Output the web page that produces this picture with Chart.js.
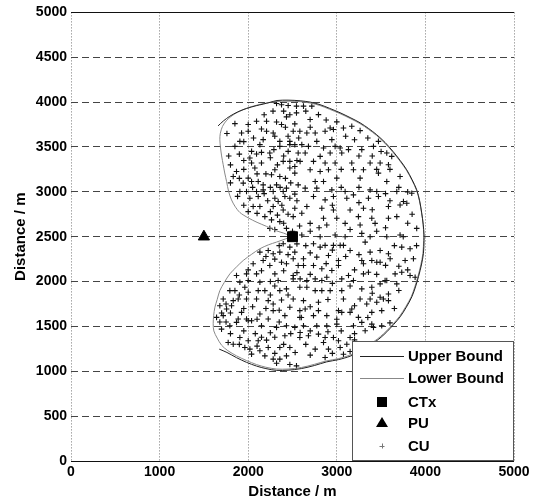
<!DOCTYPE html>
<html>
<head>
<meta charset="utf-8">
<script src="https://cdn.jsdelivr.net/npm/chart.js@4.4.1/dist/chart.umd.min.js"></script>
<style>
body { margin: 0; background: #fff; }
</style>
</head>
<body>
<canvas id="chart" width="537" height="503"></canvas>
<script>
// axis ticks
var xTicks = [0, 1000, 2000, 3000, 4000, 5000];
var yTicks = [0, 500, 1000, 1500, 2000, 2500, 3000, 3500, 4000, 4500, 5000];

// transmitter positions
var ctxPos = [[2500, 2500]];
var puPos = [[1500, 2500]];

// outer boundary (open at the left side)
var upperBound = [
  [1660,3735],[1720,3790],[1793,3843],[1880,3890],[1981,3929],[2090,3960],[2169,3978],[2250,3998],
  [2325,4018],[2450,4022],[2586,4015],[2700,4000],[2810,3972],[2920,3930],[3036,3882],[3150,3828],
  [3262,3770],[3360,3705],[3450,3637],[3545,3550],[3634,3451],[3715,3350],[3789,3246],[3850,3135],
  [3902,3023],[3935,2900],[3958,2766],[3975,2640],[3985,2520],[3985,2460],[3978,2315],[3955,2185],
  [3922,2054],[3888,1940],[3847,1830],[3785,1715],[3715,1607],[3640,1520],[3565,1440],[3500,1380],
  [3432,1328],[3300,1240],[3150,1168],[3020,1130],[2886,1105],[2750,1065],[2600,1030],[2450,1012],
  [2320,1010],[2200,1030],[2094,1058],[1980,1100],[1868,1152],[1760,1210],[1673,1247]
];

// inner boundary (closed through CTx)
var lowerBound = [
  [2500,2500],[2400,2540],[2320,2565],[2207,2615],[2100,2660],[2000,2710],[1906,2770],[1850,2840],
  [1812,2910],[1780,3000],[1756,3115],[1735,3210],[1718,3302],[1700,3400],[1688,3488],[1680,3580],
  [1685,3650],[1710,3730],[1760,3800],[1850,3870],[1950,3920],[2056,3955],[2180,3985],[2300,4005],
  [2450,4010],[2586,4005],[2700,3990],[2810,3962],[2920,3920],[3036,3872],[3150,3818],[3262,3760],
  [3360,3695],[3450,3627],[3545,3540],[3634,3441],[3715,3340],[3789,3236],[3850,3125],[3902,3013],
  [3935,2890],[3958,2760],[3975,2635],[3980,2520],[3980,2460],[3972,2315],[3948,2185],[3915,2054],
  [3880,1940],[3840,1830],[3778,1720],[3708,1612],[3633,1525],[3558,1447],[3493,1388],[3425,1336],
  [3293,1250],[3143,1178],[3015,1140],[2880,1115],[2745,1077],[2600,1042],[2450,1025],[2320,1025],
  [2200,1045],[2094,1075],[1980,1120],[1868,1172],[1770,1230],[1700,1290],[1650,1370],[1612,1450],
  [1605,1530],[1610,1620],[1624,1713],[1650,1800],[1680,1900],[1730,1990],[1793,2086],[1870,2165],
  [1944,2235],[2040,2305],[2132,2366],[2230,2410],[2320,2440],[2420,2475],[2500,2500]
];

// cognitive users
var cuPoints = [
  // upper left
  [2320,3985],[2376,3970],[2451,3962],[2545,3955],[2545,3880],[2432,3835],[2470,3860],
  [2094,3787],[2207,3787],[2320,3779],[2376,3750],[2526,3757],
  [1925,3656],[2000,3675],[2207,3675],[2282,3656],[2508,3675],[2583,3675],
  [1906,3563],[2169,3582],[2357,3563],[2470,3563],[2570,3600],
  [1850,3507],[2038,3451],[2132,3526],[2357,3507],[2470,3526],[2526,3526],
  [2019,3377],[2094,3421],[2244,3433],[2451,3451],[2564,3433],
  [2038,3321],[2150,3321],[2395,3339],[2470,3339],
  [1868,3227],[2075,3265],[2301,3246],[2470,3265],[2526,3283],
  [1831,3171],[2000,3153],[2113,3115],[2263,3190],[2357,3171],[2526,3209],
  [1944,3097],[2038,3115],[2169,3078],[2320,3078],[2432,3041],[2564,3078],
  [1906,3004],[1981,3004],[2094,3004],[2169,3022],[2282,3004],[2395,3004],[2526,2974],
  [2019,2929],[2113,2948],[2301,2929],[2338,2892],[2414,2948],[2470,2929],
  [2056,2836],[2132,2836],[2282,2836],[2395,2798],[2526,2817],
  [2188,2724],[2263,2687],[2357,2668],[2508,2724],[2244,2593],[2432,2593],[2580,2620],
  [2000,3750],[2150,3700],[2420,3720],[1780,3400],[1900,3420],[2250,3380],[2330,3300],
  [1800,3100],[1950,3250],[2200,3200],[2420,3150],[1880,2950],[2220,2900],[1950,2850],
  [2450,2750],[2330,2740],[2100,2760],[2400,2650],[2300,2580],[2500,2560],
  [1760,3650],[1850,3760],[2280,3900],[2400,3900],[2180,3860],[1950,3560],[2060,3600],
  [2290,3470],[1800,3300],[1950,3350],[2150,3440],[2400,3400],[2250,3050],[2050,3050],
  [1900,3150],[2360,3050],[2180,2980],[2550,2900],[2250,2780],[2000,2780],[2380,2850],
  [2550,3350],[2100,3200],[2480,3100],[2300,3620],[2450,3620],
  // upper right
  [2624,3955],[2718,3955],[2699,3806],[2793,3861],[2925,3712],[2962,3694],[3075,3712],[3169,3731],[3263,3682],
  [2662,3656],[2756,3656],[2774,3563],[2868,3675],[2944,3582],
  [2605,3526],[2680,3507],[2850,3488],[2981,3507],[3038,3488],[3132,3470],[3282,3470],[3414,3507],[3470,3563],
  [2643,3433],[2812,3395],[2925,3433],[3056,3433],[3564,3433],[3620,3395],
  [2586,3339],[2737,3339],[2868,3321],[2981,3321],[3169,3321],[3376,3321],[3489,3321],[3583,3302],
  [2699,3246],[2812,3227],[2906,3246],[3188,3246],[3301,3246],[3470,3209],[3714,3171],
  [2756,3115],[2850,3115],[3000,3153],[3263,3153],[3564,3115],
  [2643,3041],[2774,3041],[2944,3022],[3094,3004],[3188,2966],[3376,3022],[3451,3004],[3677,3004],[3846,2985],
  [2737,2948],[2868,2910],[2962,2948],[3113,2929],[3357,2929],[3470,2948],[3752,2892],[3790,2873],
  [2662,2836],[2831,2817],[2962,2798],[3150,2798],[3301,2817],[3583,2836],[3714,2854],
  [2605,2761],[2850,2705],[3000,2705],[3244,2724],[3395,2705],[3583,2705],[3677,2724],[3902,2593],
  [2699,2649],[2887,2631],[3094,2649],[3263,2631],[3432,2649],
  [2605,2519],[2812,2500],[2981,2519],[3094,2500],[3282,2537],[3376,2500],[3564,2500],[3714,2519],
  [2650,3900],[2880,3800],[3000,3780],[3100,3620],[3200,3580],[3350,3600],[2700,3720],
  [3250,3400],[3400,3400],[3500,3450],[3050,3250],[3450,3250],[3600,3250],[3700,3050],
  [3050,3050],[3250,3050],[3550,2980],[3600,2900],[3250,2880],[2800,2600],[3550,2600],
  [3800,2650],[3850,2750],[3750,2500],[2700,2560],[3150,2580],[3450,2560],[2950,2850],
  [3400,2800],[3800,3000],
  // lower left
  [2132,2328],[2226,2347],[2282,2310],[2357,2328],[2395,2421],[2470,2384],[2526,2328],[2508,2254],
  [2056,2198],[2169,2235],[2244,2179],[2376,2216],[2432,2198],[2564,2179],
  [1868,2067],[1981,2086],[2094,2086],[2301,2086],[2508,2067],
  [1906,1993],[2000,2011],[2132,1993],[2338,2011],[2508,2030],
  [1793,1899],[1850,1899],[1962,1937],[2000,1881],[2113,1899],[2188,1899],[2357,1899],[2432,1918],[2583,1937],
  [1718,1806],[1831,1787],[1887,1806],[1981,1806],[2094,1806],[2226,1787],[2282,1750],[2376,1795],[2508,1806],
  [1680,1731],[1756,1694],[1812,1731],[1925,1657],[2132,1638],[2282,1676],[2470,1713],[2583,1676],
  [1643,1601],[1718,1620],[1887,1582],[1981,1582],[2038,1564],[2226,1582],[2414,1620],[2583,1601],
  [1699,1470],[1793,1508],[1868,1545],[2000,1564],[2150,1508],[2320,1489],[2432,1508],[2526,1489],
  [1774,1321],[1906,1377],[2000,1340],[2113,1340],[2207,1347],[2414,1396],[2583,1377],
  [1831,1302],[1962,1265],[2019,1247],[2132,1228],[2226,1265],[2357,1265],[2470,1265],
  [2038,1191],[2188,1172],[2282,1135],[2357,1135],[2432,1172],[2320,1090],[2470,1075],[2545,1060],
  [1750,1550],[1950,1450],[2080,1420],[2250,1430],[2400,1300],[2300,1950],[2250,2000],
  [1950,1700],[2050,1720],[2400,2120],[2350,2400],[2450,2300],[1700,1650],
  [2200,2280],[2300,2250],[2000,2130],[2150,2120],[1900,1850],[2250,1850],[2450,1850],
  [1800,1650],[2350,1680],[2200,1700],[1680,1550],[2100,1580],[2350,1550],[1800,1420],
  [2150,1380],[2300,1380],[2480,1420],[1900,1300],[2300,1200],[2530,1210],[2100,1280],
  [1750,1750],[2550,2420],[2550,2100],
  // lower right
  [2737,2421],[2812,2384],[2868,2403],[2962,2403],[3038,2403],[3075,2403],[3150,2347],[3320,2440],
  [3376,2328],[3489,2347],[3583,2310],[3733,2384],[3827,2366],
  [2624,2254],[2774,2272],[2906,2291],[3019,2235],[3282,2235],[3395,2235],[3489,2216],[3602,2254],[3771,2235],[3865,2254],
  [2624,2179],[2737,2179],[2831,2142],[2944,2123],[3019,2179],[3301,2198],[3451,2216],
  [2586,2030],[2662,2011],[2756,2030],[2831,2011],[2887,2048],[3056,2030],[3132,2067],[3188,2011],
  [3301,2086],[3357,2104],[3545,2011],[3658,2086],[3733,2104],[3884,2048],[3827,2067],
  [2662,1937],[2756,1899],[2831,1899],[2925,1899],[3056,1899],[3282,1918],[3395,1937],[3489,1974],
  [3564,2011],[3583,1862],[3677,1974],
  [2624,1787],[2793,1769],[3075,1806],[3263,1806],[3376,1806],[3489,1825],[3583,1787],
  [2643,1694],[2793,1676],[3019,1676],[3169,1694],[3338,1750],[3451,1769],[3526,1806],
  [2737,1620],[2887,1620],[3056,1657],[3150,1657],[3244,1601],[3395,1657],[3507,1676],
  [2624,1508],[2774,1508],[2887,1508],[3000,1526],[3188,1508],[3282,1545],[3395,1526],[3507,1508],[3600,1540],
  [2586,1433],[2680,1396],[2793,1414],[2868,1377],[2962,1377],[3150,1377],[3320,1452],[3414,1489],
  [2756,1247],[2906,1247],[3038,1265],[3019,1340],[3113,1302],[2868,1153],[3075,1190],[3150,1220],
  [2650,2400],[2950,2350],[3250,2300],[3650,2400],[3900,2400],[2700,2320],[3100,2280],
  [3550,2180],[3700,2170],[2880,2200],[3200,2130],[3450,2080],[3800,2130],[2700,2080],
  [2950,1980],[3150,1950],[3700,1900],[3400,1870],[2900,1800],[2700,1720],[3200,1730],
  [3650,1700],[2600,1600],[3000,1580],[3350,1600],[2700,1450],[2900,1440],[3050,1450],
  [3200,1420],[2650,1300],[2850,1320],[3200,1350],[2700,1180],[2950,1200]
];

var legendLabels = ['Upper Bound', 'Lower Bound', 'CTx', 'PU', 'CU'];

function toXY(list) {
  return list.map(function(p) { return {x: p[0], y: p[1]}; });
}

var fontFam = '"Liberation Sans", Arial, Helvetica, sans-serif';
Chart.defaults.font.family = fontFam;
Chart.defaults.color = '#000';

// legend drawn inside the plot, bottom right
var boxLegend = {
  id: 'boxLegend',
  afterDatasetsDraw: function(chart) {
    var c = chart.ctx, a = chart.chartArea;
    var w = 162, h = 120;
    var x0 = a.right - w, y0 = a.bottom - h;
    var rows = [15, 37, 61, 82, 105];
    c.save();
    c.fillStyle = '#fff';
    c.fillRect(x0, y0, w, h);
    c.strokeStyle = '#555';
    c.lineWidth = 1;
    c.strokeRect(x0 + 0.5, y0 + 0.5, w - 1, h - 1);

    var mx = x0 + 30;
    // line samples
    c.strokeStyle = '#222';
    c.beginPath(); c.moveTo(x0 + 8, y0 + rows[0] + 0.5); c.lineTo(x0 + 52, y0 + rows[0] + 0.5); c.stroke();
    c.strokeStyle = '#888';
    c.beginPath(); c.moveTo(x0 + 8, y0 + rows[1] + 0.5); c.lineTo(x0 + 52, y0 + rows[1] + 0.5); c.stroke();
    // square
    c.fillStyle = '#000';
    c.fillRect(mx - 5, y0 + rows[2] - 5, 10, 10);
    // triangle
    c.beginPath();
    c.moveTo(mx, y0 + rows[3] - 6);
    c.lineTo(mx + 6, y0 + rows[3] + 4);
    c.lineTo(mx - 6, y0 + rows[3] + 4);
    c.closePath(); c.fill();
    // plus
    c.strokeStyle = '#777';
    c.beginPath();
    c.moveTo(mx - 2.5, y0 + rows[4] + 0.5); c.lineTo(mx + 2.5, y0 + rows[4] + 0.5);
    c.moveTo(mx + 0.5, y0 + rows[4] - 2.5); c.lineTo(mx + 0.5, y0 + rows[4] + 2.5);
    c.stroke();

    c.fillStyle = '#000';
    c.font = 'bold 15px ' + fontFam;
    c.textBaseline = 'middle';
    c.textAlign = 'left';
    for (var i = 0; i < legendLabels.length; i++) {
      c.fillText(legendLabels[i], x0 + 56, y0 + rows[i] + 1);
    }
    c.restore();
  }
};

function isEdge(ctx) {
  return ctx.tick && (ctx.tick.value === 0 || ctx.tick.value === 5000);
}

function plainTick(v) { return String(v); }

new Chart(document.getElementById('chart').getContext('2d'), {
  type: 'scatter',
  data: {
    datasets: [
      {
        label: 'Upper Bound',
        data: toXY(upperBound),
        showLine: true,
        borderColor: '#222',
        borderWidth: 1,
        pointRadius: 0,
        tension: 0.3,
        order: 2
      },
      {
        label: 'Lower Bound',
        data: toXY(lowerBound),
        showLine: true,
        borderColor: '#888',
        borderWidth: 1,
        pointRadius: 0,
        tension: 0.3,
        order: 3
      },
      {
        label: 'CTx',
        data: toXY(ctxPos),
        pointStyle: 'rect',
        pointRadius: 7,
        backgroundColor: '#000',
        borderColor: '#000',
        order: 1
      },
      {
        label: 'PU',
        data: toXY(puPos),
        pointStyle: 'triangle',
        pointRadius: 6.5,
        backgroundColor: '#000',
        borderColor: '#000',
        order: 1
      },
      {
        label: 'CU',
        data: toXY(cuPoints),
        pointStyle: 'cross',
        pointRadius: 2.8,
        borderWidth: 1.1,
        borderColor: '#111',
        order: 5
      }
    ]
  },
  options: {
    responsive: false,
    animation: false,
    layout: { padding: { top: 12, right: 23, left: 0, bottom: 0 } },
    plugins: {
      legend: { display: false },
      tooltip: { enabled: false }
    },
    scales: {
      x: {
        type: 'linear',
        min: 0,
        max: 5000,
        afterBuildTicks: function(scale) {
          scale.ticks = xTicks.map(function(v) { return {value: v}; });
        },
        afterFit: function(scale) { scale.height = 42; },
        ticks: {
          padding: 3,
          maxRotation: 0,
          callback: plainTick,
          font: { size: 14, weight: 'bold' },
          color: '#000'
        },
        grid: {
          drawTicks: false,
          color: '#777',
          lineWidth: 1
        },
        border: { display: false, dash: [1, 2] },
        title: {
          display: true,
          text: 'Distance / m',
          font: { size: 15, weight: 'bold' },
          padding: { top: 0, bottom: 2 },
          color: '#000'
        }
      },
      y: {
        type: 'linear',
        min: 0,
        max: 5000,
        afterBuildTicks: function(scale) {
          scale.ticks = yTicks.map(function(v) { return {value: v}; });
        },
        afterFit: function(scale) { scale.width = 71; },
        ticks: {
          padding: 4,
          callback: plainTick,
          font: { size: 14, weight: 'bold' },
          color: '#000'
        },
        grid: {
          drawTicks: false,
          color: function(ctx) { return isEdge(ctx) ? '#111' : '#444'; },
          lineWidth: 1
        },
        border: {
          display: false,
          dash: function(ctx) { return isEdge(ctx) ? [] : [7, 4]; }
        },
        title: {
          display: true,
          text: 'Distance / m',
          font: { size: 15, weight: 'bold' },
          padding: { top: 12, bottom: 0 },
          color: '#000'
        }
      }
    }
  },
  plugins: [boxLegend]
});
</script>
</body>
</html>
